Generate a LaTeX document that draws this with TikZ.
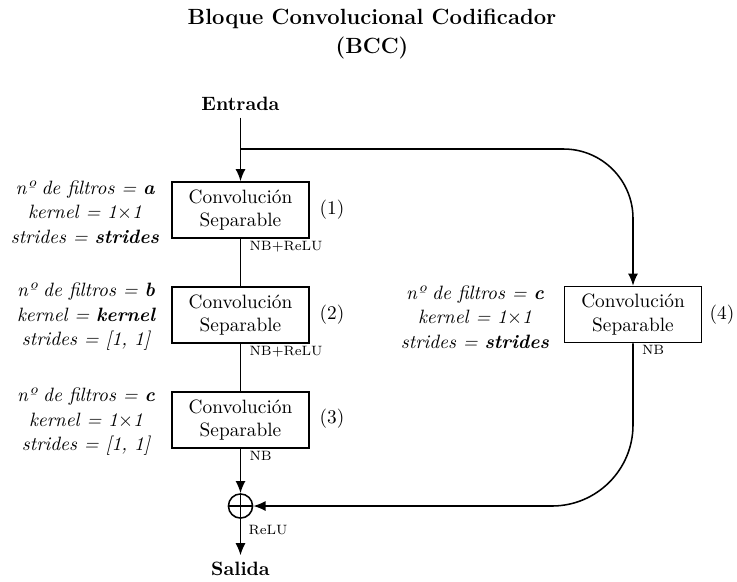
\documentclass[tikz,border=0pt]{standalone}
\usetikzlibrary{arrows.meta}
\begin{document}
\begin{tikzpicture}[x=0.518pt,y=-0.518pt,
  conv/.style={draw, line width=0.8pt, minimum width=71pt, minimum height=29pt, align=center, inner sep=2pt},
  conn/.style={line width=0.8pt},
  arr/.style={conn, -{Latex[length=6.3pt,width=5.2pt]}},
  param/.style={align=center, font=\itshape\linespread{1.06}\selectfont},
  small/.style={font=\scriptsize, inner sep=1pt, anchor=north west},
  sumnode/.style={circle, draw, line width=0.8pt, minimum size=12.5pt, inner sep=0pt,
    path picture={\draw[line width=0.6pt] (path picture bounding box.north) -- (path picture bounding box.south)
      (path picture bounding box.west) -- (path picture bounding box.east);}}]
\useasboundingbox (0,0) rectangle (737,581);

\node[font=\fontsize{11.4}{15}\selectfont\bfseries, align=center] (title) at (372,34) {Bloque Convolucional Codificador\\(BCC)};
\node[font=\bfseries] (in) at (240.5,104) {Entrada};
\coordinate (split) at (240.5,149);

\node[conv] (b1) at (240.5,210) {Convolución\\Separable};
\node[conv] (b2) at (240.5,315) {Convolución\\Separable};
\node[conv] (b3) at (240.5,420) {Convolución\\Separable};
\node[conv] (b4) at (633,314.5) {Convolución\\Separable};
\node[sumnode] (plus) at (240.5,506) {};
\node[font=\bfseries] (out) at (240.5,569) {Salida};

\node (n1) at (332,210) {(1)};
\node (n2) at (332,315) {(2)};
\node (n3) at (332,419) {(3)};
\node (n4) at (722,315) {(4)};

\node[param] (p1) at (85,212) {nº de filtros = \textbf{a}\\kernel = 1$\times$1\\strides = \textbf{strides}};
\node[param] (p2) at (86,317) {nº de filtros = \textbf{b}\\kernel = \textbf{kernel}\\strides = [1, 1]};
\node[param] (p3) at (86,422) {nº de filtros = \textbf{c}\\kernel = 1$\times$1\\strides = [1, 1]};
\node[param] (p4) at (475,317) {nº de filtros = \textbf{c}\\kernel = 1$\times$1\\strides = \textbf{strides}};

\node[small] (e1) at ([xshift=3.5pt]b1.south) {NB+ReLU};
\node[small] (e2) at ([xshift=3.5pt]b2.south) {NB+ReLU};
\node[small] (e3) at ([xshift=3.5pt]b3.south) {NB};
\node[small] (e4) at ([xshift=3.5pt]b4.south) {NB};
\node[small] (e5) at ([xshift=3pt,yshift=-2pt]plus.south) {ReLU};

\draw[arr] (in) -- (b1);
\draw[conn] (b1) -- (b2);
\draw[conn] (b2) -- (b3);
\draw[arr] (b3) -- (plus);
\draw[arr] (plus) -- (out);
\draw[arr, rounded corners=36pt] (split) -| (b4.north);
\draw[arr, rounded corners=42pt] (b4.south) |- (plus.east);
\end{tikzpicture}
\end{document}
